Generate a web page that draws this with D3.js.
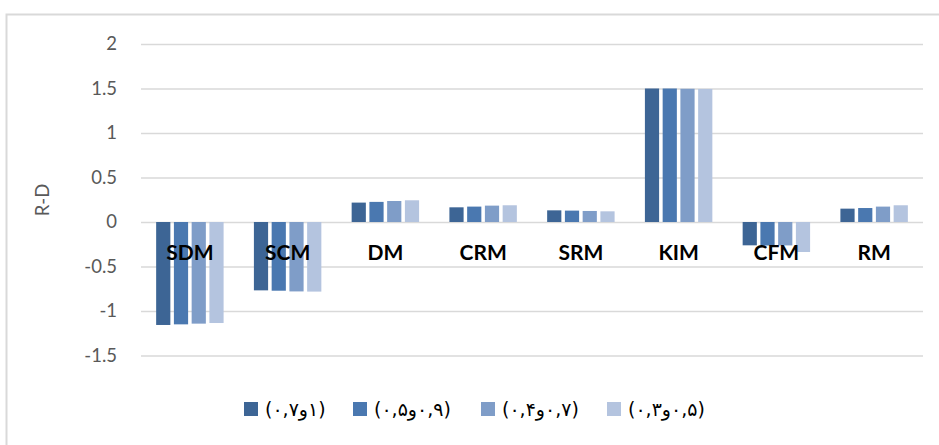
<!DOCTYPE html>
<html>
<head>
<meta charset="utf-8">
<script src="https://cdn.jsdelivr.net/npm/d3@7"></script>
<style>
  html, body { margin: 0; padding: 0; background: #fff; }
  svg { display: block; }
</style>
</head>
<body>
<svg id="chart" width="939" height="445"></svg>
<script>
const categories = ["SDM", "SCM", "DM", "CRM", "SRM", "KIM", "CFM", "RM"];
const seriesNames = ["(۰,۷و۱)", "(۰,۵و۰,۹)", "(۰,۴و۰,۷)", "(۰,۳و۰,۵)"];
const series1 = [-1.157, -0.768, 0.218, 0.165, 0.131, 1.5, -0.262, 0.150];
const series2 = [-1.150, -0.772, 0.226, 0.173, 0.128, 1.5, -0.264, 0.157];
const series3 = [-1.142, -0.780, 0.236, 0.184, 0.124, 1.497, -0.263, 0.173];
const series4 = [-1.135, -0.782, 0.244, 0.188, 0.120, 1.495, -0.337, 0.188];
const yTicks = [-1.5, -1, -0.5, 0, 0.5, 1, 1.5, 2];
const colors = ["#3d6595", "#4a78b0", "#7f9dc8", "#b4c4df"];
const yTitle = "R-D";

const allSeries = [series1, series2, series3, series4];
const svg = d3.select("#chart");

// outer border (only top and left visible)
svg.append("path")
  .attr("d", "M6.5,445 L6.5,14.5 L939,14.5")
  .attr("fill", "none").attr("stroke", "#d9d9d9").attr("stroke-width", 2);

const y = d3.scaleLinear().domain([-1.5, 2]).range([355.5, 44]);
const x0 = d3.scaleBand().domain(categories).range([141, 923]).paddingInner(0.31).paddingOuter(0.155);
const x1 = d3.scaleBand().domain(d3.range(4)).range([0, x0.bandwidth()]).paddingInner(0.2).paddingOuter(0);

// gridlines
const yAxis = d3.axisLeft(y).tickValues(yTicks).tickSize(-(923 - 141)).tickPadding(24)
  .tickFormat(d => String(d));
const gy = svg.append("g").attr("transform", "translate(141,0)").call(yAxis);
gy.select(".domain").remove();
gy.selectAll(".tick line").attr("stroke", "#d9d9d9").attr("stroke-width", 1.5);
gy.selectAll(".tick text")
  .attr("fill", "#595959").attr("font-family", "Lato, 'Open Sans', sans-serif")
  .attr("font-size", 18.5).attr("x", -24);

// bars
const groups = svg.append("g").selectAll("g").data(categories).join("g")
  .attr("transform", d => `translate(${x0(d)},0)`);
groups.selectAll("rect")
  .data((c, i) => allSeries.map((s, k) => ({k, v: s[i]})))
  .join("rect")
  .attr("x", d => x1(d.k))
  .attr("width", x1.bandwidth())
  .attr("y", d => y(Math.max(0, d.v)))
  .attr("height", d => Math.abs(y(d.v) - y(0)))
  .attr("fill", d => colors[d.k]);

// category labels
svg.append("g").selectAll("text").data(categories).join("text")
  .attr("x", d => x0(d) + x0.bandwidth() / 2)
  .attr("y", 260)
  .attr("text-anchor", "middle")
  .attr("font-family", "Lato, 'Open Sans', sans-serif")
  .attr("font-weight", "bold")
  .attr("font-size", 21)
  .attr("fill", "#000")
  .text(d => d);

// y title
svg.append("text")
  .attr("transform", "translate(49,200) rotate(-90)")
  .attr("text-anchor", "middle")
  .attr("font-family", "Lato, 'Open Sans', sans-serif")
  .attr("font-size", 18.5)
  .attr("fill", "#595959")
  .text(yTitle);

// legend
const legendX = [244, 353, 481, 607];
const lg = svg.append("g").selectAll("g").data(seriesNames).join("g")
  .attr("transform", (d, i) => `translate(${legendX[i]},402)`);
lg.append("rect").attr("width", 14).attr("height", 14).attr("fill", (d, i) => colors[i]);
lg.append("text")
  .attr("x", 21).attr("y", 13.5)
  .attr("font-family", "'DejaVu Sans', sans-serif")
  .attr("font-size", 19)
  .attr("fill", "#000")
  .style("direction", "ltr")
  .style("unicode-bidi", "bidi-override")
  .text(d => d);
</script>
</body>
</html>
